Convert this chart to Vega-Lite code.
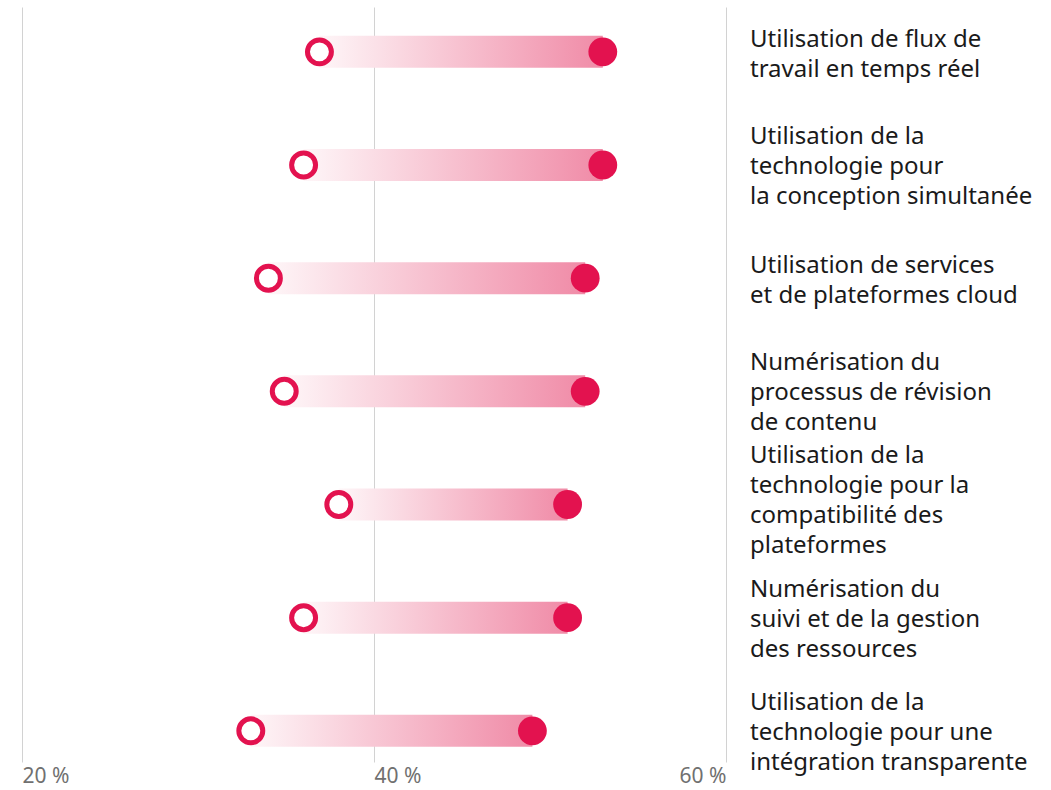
{
  "$schema": "https://vega.github.io/schema/vega-lite/v6.json",
  "width": 704,
  "height": 755,
  "autosize": "none",
  "padding": {"left": 22, "top": 7, "right": 325, "bottom": 28},
  "background": "white",
  "config": {"view": {"stroke": null}, "font": "Noto Sans"},
  "data": {
    "values": [
      {"item": "Utilisation de flux de\ntravail en temps réel", "order": 1, "before": 36.9, "after": 53.0},
      {"item": "Utilisation de la\ntechnologie pour\nla conception simultanée", "order": 2, "before": 36.0, "after": 53.0},
      {"item": "Utilisation de services\net de plateformes cloud", "order": 3, "before": 34.0, "after": 52.0},
      {"item": "Numérisation du\nprocessus de révision\nde contenu", "order": 4, "before": 34.9, "after": 52.0},
      {"item": "Utilisation de la\ntechnologie pour la\ncompatibilité des\nplateformes", "order": 5, "before": 38.0, "after": 51.0},
      {"item": "Numérisation du\nsuivi et de la gestion\ndes ressources", "order": 6, "before": 36.0, "after": 51.0},
      {"item": "Utilisation de la\ntechnologie pour une\nintégration transparente", "order": 7, "before": 33.0, "after": 49.0}
    ]
  },
  "encoding": {
    "y": {
      "field": "order", "type": "ordinal", "axis": null,
      "scale": {"type": "point", "padding": 0.336, "align": 0.59}
    }
  },
  "layer": [
    {
      "mark": {
        "type": "bar", "height": 32,
        "fill": {"gradient": "linear", "x1": 0, "x2": 1, "y1": 0, "y2": 0,
          "stops": [{"offset": 0, "color": "#fef6f8"}, {"offset": 1, "color": "#f08ba7"}]}
      },
      "encoding": {
        "x": {
          "field": "before", "type": "quantitative",
          "scale": {"domain": [20, 60], "nice": false, "zero": false},
          "axis": {
            "values": [20, 40, 60], "title": null, "grid": true, "gridColor": "#d2d2d2", "gridWidth": 1,
            "domain": false, "ticks": false, "labelFontSize": 21, "labelColor": "#707070",
            "labelFont": "Noto Sans", "labelPadding": 3, "labelFlush": false,
            "labelAlign": {"condition": {"test": "datum.value == 60", "value": "right"}, "value": "left"},
            "labelExpr": "datum.value + ' %'"
          }
        },
        "x2": {"field": "after"}
      }
    },
    {
      "mark": {"type": "point", "shape": "circle", "filled": true, "size": 830, "color": "#e3124f", "opacity": 1},
      "encoding": {"x": {"field": "after", "type": "quantitative"}}
    },
    {
      "mark": {"type": "point", "shape": "circle", "filled": false, "size": 573, "fill": "white", "fillOpacity": 1, "stroke": "#e3124f", "strokeWidth": 5, "opacity": 1},
      "encoding": {"x": {"field": "before", "type": "quantitative"}}
    },
    {
      "transform": [{"filter": "length(split(datum.item, '\\n')) == 2"}],
      "mark": {"type": "text", "align": "left", "baseline": "middle", "dx": 24, "dy": -12, "fontSize": 24, "lineHeight": 30, "lineBreak": "\n", "color": "#1a1a1a", "font": "Noto Sans"},
      "encoding": {
        "x": {"datum": 60, "type": "quantitative"},
        "text": {"field": "item"}
      }
    },
    {
      "transform": [{"filter": "length(split(datum.item, '\\n')) == 3"}],
      "mark": {"type": "text", "align": "left", "baseline": "middle", "dx": 24, "dy": -28, "fontSize": 24, "lineHeight": 30, "lineBreak": "\n", "color": "#1a1a1a", "font": "Noto Sans"},
      "encoding": {
        "x": {"datum": 60, "type": "quantitative"},
        "text": {"field": "item"}
      }
    },
    {
      "transform": [{"filter": "length(split(datum.item, '\\n')) == 4"}],
      "mark": {"type": "text", "align": "left", "baseline": "middle", "dx": 24, "dy": -49, "fontSize": 24, "lineHeight": 30, "lineBreak": "\n", "color": "#1a1a1a", "font": "Noto Sans"},
      "encoding": {
        "x": {"datum": 60, "type": "quantitative"},
        "text": {"field": "item"}
      }
    }
  ]
}
